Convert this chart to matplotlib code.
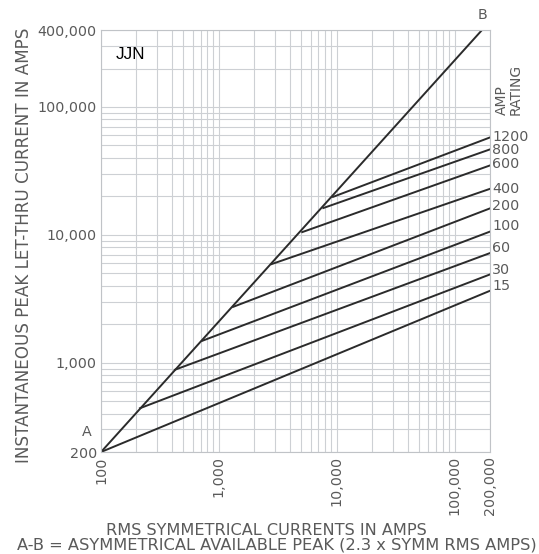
import matplotlib.pyplot as plt
import matplotlib.ticker as mticker

# A-B line: asymmetrical available peak
ab_rms = [100, 171000]
ab_peak = [200, 400000]

# let-thru lines per amp rating: start on A-B, end at 200,000 RMS
ratings = ['1200', '800', '600', '400', '200', '100', '60', '30', '15']
break_rms = [9300, 7700, 5100, 2800, 1320, 720, 424, 214, 100]
break_peak = [19800, 16200, 10500, 5900, 2730, 1480, 880, 440, 200]
end_rms = 200000
end_peak = [57800, 46600, 34900, 22900, 16100, 10600, 7200, 4900, 3650]
label_shift = [0, -1, 1, 0, 2, 6, 5, 4, 5]   # pixels up

xticks = [100, 1000, 10000, 100000, 200000]
yticks = [200, 1000, 10000, 100000, 400000]

plt.rcParams['font.family'] = ['DejaVu Sans']
txt = '#5a5a5a'
ink = '#2b2b2b'

fig = plt.figure(figsize=(5.39, 5.54), dpi=100)
ax = fig.add_axes([0.1874, 0.1841, 0.7217, 0.7617])
ax.set_xscale('log')
ax.set_yscale('log')
ax.set_xlim(100, 200000)
ax.set_ylim(200, 400000)

ax.grid(True, which='both', color='#cdd0d4', lw=0.8)
ax.set_axisbelow(True)
for s in ax.spines.values():
    s.set_color('#c0c3c7')
    s.set_linewidth(0.8)

ax.plot(ab_rms, ab_peak, color=ink, lw=1.4, solid_capstyle='round')
for r, bx, by, ey, dy in zip(ratings, break_rms, break_peak, end_peak, label_shift):
    ax.plot([bx, end_rms], [by, ey], color=ink, lw=1.4)
    ax.annotate(r, (end_rms, ey), xytext=(2, dy), textcoords='offset pixels',
                ha='left', va='center', fontsize=10.3, color=txt,
                annotation_clip=False)

ax.set_xticks(xticks)
ax.set_xticklabels([f'{v:,}' for v in xticks], rotation=90, va='top')
ax.set_yticks(yticks)
ax.set_yticklabels([f'{v:,}' for v in yticks])
ax.xaxis.set_minor_locator(mticker.LogLocator(base=10, subs=range(2, 10), numticks=20))
ax.yaxis.set_minor_locator(mticker.LogLocator(base=10, subs=range(2, 10), numticks=20))
ax.xaxis.set_minor_formatter(mticker.NullFormatter())
ax.yaxis.set_minor_formatter(mticker.NullFormatter())
ax.tick_params(which='both', length=0, labelsize=10.3, labelcolor=txt, pad=3)

ax.set_ylabel('INSTANTANEOUS PEAK LET-THRU CURRENT IN AMPS', fontsize=12.1,
              color=txt)
ax.yaxis.set_label_coords(-0.175, 0.49)

fig.text(0.495, 0.043, 'RMS SYMMETRICAL CURRENTS IN AMPS', ha='center',
         va='center', fontsize=11.6, color=txt)
fig.text(0.514, 0.016, 'A-B = ASYMMETRICAL AVAILABLE PEAK (2.3 x SYMM RMS AMPS)',
         ha='center', va='center', fontsize=11.7, color=txt)

ax.annotate('A', (100, 200), xytext=(-14, 20), textcoords='offset pixels',
            ha='center', va='center', fontsize=10.3, color=txt, annotation_clip=False)
ax.annotate('B', (ab_rms[1], ab_peak[1]), xytext=(1, 15), textcoords='offset pixels',
            ha='center', va='center', fontsize=10.3, color=txt, annotation_clip=False)
fig.text(0.944, 0.838, 'AMP\nRATING', rotation=90, ha='center', va='center',
         multialignment='left', fontsize=10, color=txt, linespacing=0.9)
ax.text(0.037, 0.96, 'JJN', transform=ax.transAxes, ha='left', va='top',
        fontsize=12.3, color='black', family='Liberation Sans')

fig.savefig('out.png', dpi=100, facecolor='white')
